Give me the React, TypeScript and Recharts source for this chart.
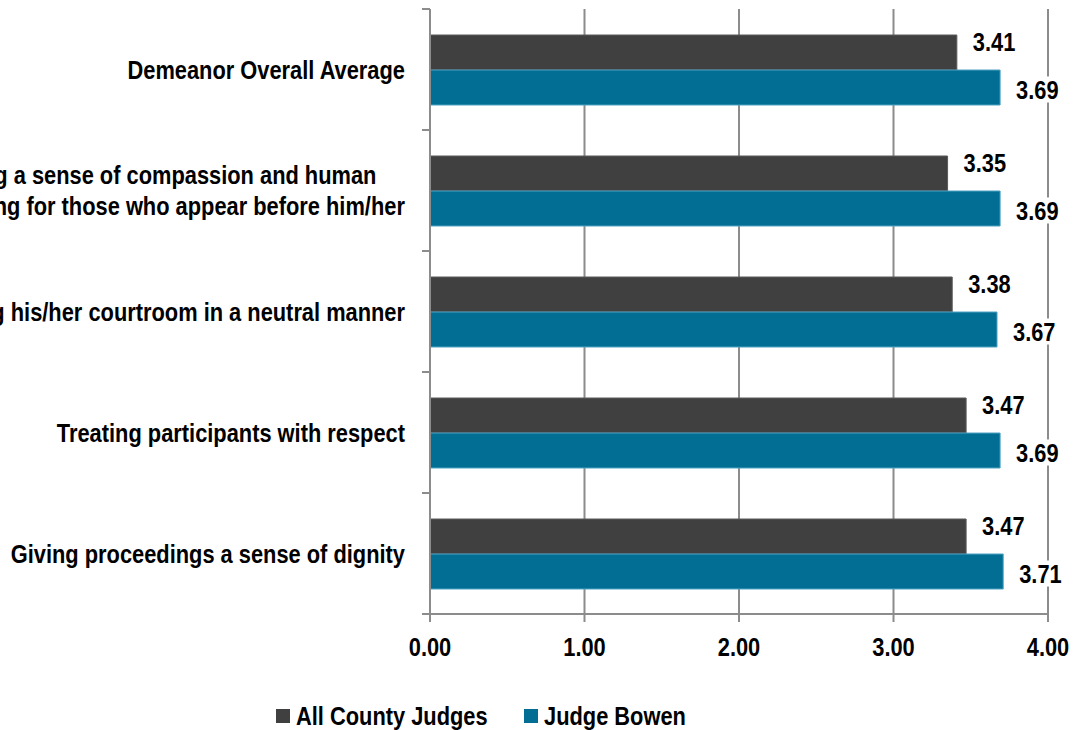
import { Bar, BarChart, CartesianGrid, LabelList, XAxis, YAxis } from "recharts";

const categories = [
  "Demeanor Overall Average",
  "Displaying a sense of compassion and human\nunderstanding for those who appear before him/her",
  "Conducting his/her courtroom in a neutral manner",
  "Treating participants with respect",
  "Giving proceedings a sense of dignity",
];
const allCounty = [3.41, 3.35, 3.38, 3.47, 3.47];
const judgeBowen = [3.69, 3.69, 3.67, 3.69, 3.71];
const xTicks = [0, 1, 2, 3, 4];

const seriesNames = ["All County Judges", "Judge Bowen"];
const DARK = "#404040";
const BLUE = "#036e93";
const AXIS = "#8c8c8c";
const FONT = "'Liberation Sans', Arial, sans-serif";
const FS = 26;
const SQUEEZE = 0.84; // narrow look of the original font

const data = categories.map((name, i) => ({ name, all: allCounty[i], bowen: judgeBowen[i] }));

const W = 1078;
const H = 730;
const LEGEND_H = 46;
const TOP = 9;
const PLOT_H = 605;
const BAND = PLOT_H / categories.length;

let ctx: CanvasRenderingContext2D | null = null;
function textWidth(s: string) {
  if (!ctx) ctx = document.createElement("canvas").getContext("2d");
  if (!ctx) return s.length * FS * 0.5;
  ctx.font = `bold ${FS}px ${FONT}`;
  return ctx.measureText(s).width * SQUEEZE;
}

// bold text squeezed horizontally around its anchor x
function NarrowText({ x, y, anchor = "start", children }: any) {
  return (
    <text
      x={x}
      y={y}
      textAnchor={anchor}
      dominantBaseline="central"
      transform={`matrix(${SQUEEZE} 0 0 1 ${x * (1 - SQUEEZE)} 0)`}
      fontFamily={FONT}
      fontWeight="bold"
      fontSize={FS}
      fill="#000"
    >
      {children}
    </text>
  );
}

// category label: block right-aligned to the axis, lines centred within it
function CategoryTick({ x, y, payload }: any) {
  const lines = String(payload.value).split("\n");
  const lh = 31;
  const start = y - ((lines.length - 1) * lh) / 2;
  const right = x - 25;
  const blockW = Math.max(...lines.map(textWidth));
  return (
    <g>
      <line x1={x - 8} x2={x} y1={y - BAND / 2} y2={y - BAND / 2} stroke={AXIS} strokeWidth={2} />
      <line x1={x - 8} x2={x} y1={y + BAND / 2} y2={y + BAND / 2} stroke={AXIS} strokeWidth={2} />
      {lines.map((l, i) =>
        lines.length > 1 ? (
          <NarrowText key={i} x={right - blockW / 2} y={start + i * lh} anchor="middle">
            {l}
          </NarrowText>
        ) : (
          <NarrowText key={i} x={right} y={start + i * lh} anchor="end">
            {l}
          </NarrowText>
        )
      )}
    </g>
  );
}

function ValueTick({ x, y, payload }: any) {
  return (
    <NarrowText x={x} y={y + 25} anchor="middle">
      {Number(payload.value).toFixed(2)}
    </NarrowText>
  );
}

function makeLabel(dy: number) {
  return function ValueLabel({ x, y, width, height, value }: any) {
    const tx = x + width + 16;
    const cy = y + height / 2 + dy;
    return (
      <g>
        <rect x={tx - 3} y={cy - 13} width={48} height={26} fill="#fff" />
        <NarrowText x={tx} y={cy}>
          {Number(value).toFixed(2)}
        </NarrowText>
      </g>
    );
  };
}

function LegendRow() {
  const items = [
    { name: seriesNames[0], color: DARK, left: 276 },
    { name: seriesNames[1], color: BLUE, left: 524 },
  ];
  return (
    <svg width={W} height={LEGEND_H} style={{ display: "block" }}>
      {items.map((it, i) => (
        <g key={i}>
          <rect x={it.left} y={25} width={14} height={14} fill={it.color} />
          <NarrowText x={it.left + 20} y={32}>
            {it.name}
          </NarrowText>
        </g>
      ))}
    </svg>
  );
}

export default function App() {
  return (
    <div style={{ position: "absolute", top: 0, left: 0, width: W, height: H, background: "#fff" }}>
      <BarChart
        width={W}
        height={H - LEGEND_H}
        data={data}
        layout="vertical"
        margin={{ top: TOP, right: 30, left: 0, bottom: 0 }}
        barSize={35}
        barGap={0}
      >
        <CartesianGrid horizontal={false} stroke={AXIS} strokeWidth={2} />
        <XAxis
          type="number"
          domain={[0, 4]}
          ticks={xTicks}
          stroke={AXIS}
          strokeWidth={2}
          tickSize={8}
          tickMargin={0}
          height={70}
          tick={<ValueTick />}
        />
        <YAxis
          type="category"
          dataKey="name"
          width={430}
          stroke={AXIS}
          strokeWidth={2}
          tickLine={false}
          tickSize={0}
          tickMargin={0}
          interval={0}
          tick={<CategoryTick />}
        />
        <Bar dataKey="all" name={seriesNames[0]} fill={DARK} stroke="#5a5a5a" strokeWidth={1} isAnimationActive={false}>
          <LabelList dataKey="all" content={makeLabel(-11)} />
        </Bar>
        <Bar dataKey="bowen" name={seriesNames[1]} fill={BLUE} stroke="#4fa3c4" strokeWidth={1} isAnimationActive={false}>
          <LabelList dataKey="bowen" content={makeLabel(2)} />
        </Bar>
      </BarChart>
      <LegendRow />
    </div>
  );
}
